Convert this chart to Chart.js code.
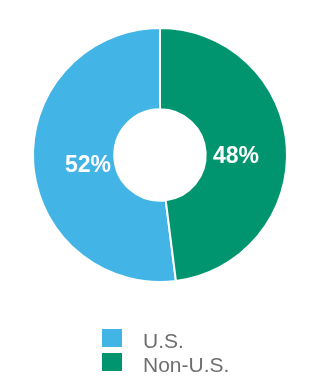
<!DOCTYPE html>
<html>
<head>
<meta charset="utf-8">
<script src="https://cdn.jsdelivr.net/npm/chart.js@4.4.1/dist/chart.umd.min.js"></script>
<style>
  html, body { margin: 0; padding: 0; background: #fff; }
  #wrap { width: 320px; height: 380px; }
</style>
</head>
<body>
<div id="wrap"><canvas id="donut" width="320" height="380"></canvas></div>
<script>
// datos del grafico
const categorias = ['U.S.', 'Non-U.S.'];
const valores = [52, 48];
const colores = ['#42b4e6', '#00956f'];

// el segmento Non-U.S. empieza arriba (12 en punto) y gira en sentido horario
const total = valores.reduce((a, b) => a + b, 0);
const rotacion = valores[1] / total * 360;

// etiquetas de porcentaje dentro de cada segmento
const etiquetasPlugin = {
    id: 'etiquetas',
    afterDatasetsDraw(chart) {
        const ctx = chart.ctx;
        const meta = chart.getDatasetMeta(0);
        ctx.save();
        ctx.font = 'bold 23px "Liberation Sans", Arial, sans-serif';
        ctx.fillStyle = '#ffffff';
        ctx.textAlign = 'center';
        ctx.textBaseline = 'middle';
        meta.data.forEach((arc, i) => {
            const p = arc.getProps(['x', 'y', 'startAngle', 'endAngle', 'innerRadius', 'outerRadius'], true);
            const mid = (p.startAngle + p.endAngle) / 2;
            const r = p.innerRadius + 0.35 * (p.outerRadius - p.innerRadius);
            ctx.fillText(valores[i] + '%', p.x + Math.cos(mid) * r + 2, p.y + Math.sin(mid) * r + 6);
        });
        ctx.restore();
    }
};

// leyenda vertical dibujada a mano debajo del grafico
const leyendaPlugin = {
    id: 'leyenda',
    afterDraw(chart) {
        const ctx = chart.ctx;
        ctx.save();
        ctx.font = '21px "Liberation Sans", Arial, sans-serif';
        ctx.textBaseline = 'alphabetic';
        categorias.forEach((c, i) => {
            const y = 329 + i * 24;
            ctx.fillStyle = colores[i];
            ctx.fillRect(102, y, 20, 18);
            ctx.fillStyle = '#6e6e6e';
            ctx.fillText(c, 143, y + 19);
        });
        ctx.restore();
    }
};

new Chart(document.getElementById('donut').getContext('2d'), {
    type: 'doughnut',
    data: {
        labels: categorias,
        datasets: [{
            data: valores,
            backgroundColor: colores,
            borderColor: '#ffffff',
            borderWidth: 2
        }]
    },
    options: {
        responsive: false,
        animation: false,
        cutout: '36%',
        rotation: rotacion,
        layout: { padding: { top: 27, bottom: 97, left: 0, right: 0 } },
        plugins: {
            legend: { display: false },
            tooltip: { enabled: false }
        }
    },
    plugins: [etiquetasPlugin, leyendaPlugin]
});
</script>
</body>
</html>
